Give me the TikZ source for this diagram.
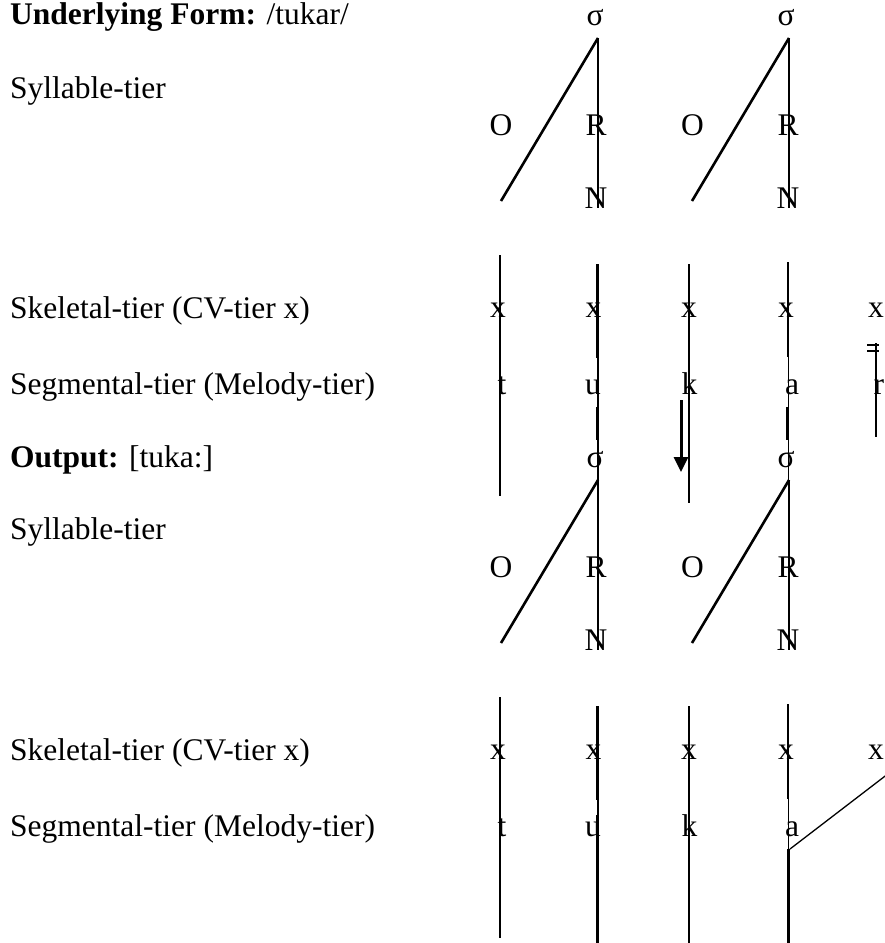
\documentclass[tikz,border=0pt]{standalone}
\usepackage{fontspec}
\setmainfont{Liberation Serif}
\usepackage{tikz}
\usetikzlibrary{arrows.meta}

\begin{document}
\begin{tikzpicture}[
    x=1pt, y=-1pt,
    lbl/.style={font=\fontsize{31.5}{36}\selectfont, inner sep=0pt, anchor=base west},
    sym/.style={font=\fontsize{31.5}{36}\selectfont, inner sep=0pt, anchor=base},
    assoc/.style={line width=2.6pt, black},
    assocthin/.style={line width=1.3pt, black},
    movearr/.style={-{Triangle[width=14pt,length=15pt]}, line width=3pt, black},
]
\useasboundingbox (0,0) rectangle (885,943);
\clip (0,0) rectangle (885,943);
% tier labels
\node[lbl] (uf) at (10,24) {\textbf{Underlying Form:} /tukar/};
\node[lbl] (sylU) at (10,98) {Syllable-tier};
\node[lbl] (skelU) at (10,318) {Skeletal-tier (CV-tier x)};
\node[lbl] (segU) at (10,394) {Segmental-tier (Melody-tier)};
\node[lbl] (outp) at (10,467) {\textbf{Output:} [tuka:]};
\node[lbl] (sylL) at (10,539) {Syllable-tier};
\node[lbl] (skelL) at (10,760) {Skeletal-tier (CV-tier x)};
\node[lbl] (segL) at (10,836) {Segmental-tier (Melody-tier)};
% underlying form: syllables
\node[sym] (sigUA) at (595,25) {σ};
\node[sym] (sigUB) at (786,25) {σ};
\node[sym] (onsUA) at (501,135) {O};
\node[sym] (rhyUA) at (596,135) {R};
\node[sym] (nucUA) at (596,208) {N};
\node[sym] (onsUB) at (692.5,135) {O};
\node[sym] (rhyUB) at (788,135) {R};
\node[sym] (nucUB) at (788,208) {N};
\coordinate (apUA) at (598,38);
\coordinate (oeUA) at (501,201);
\coordinate (neUA) at (598,208);
\coordinate (apUB) at (789,38);
\coordinate (oeUB) at (692,201);
\coordinate (neUB) at (789,208);
\draw[assoc] (apUA) -- (oeUA);
\draw[assoc] (apUA) -- (neUA);
\draw[assoc] (apUB) -- (oeUB);
\draw[assoc] (apUB) -- (neUB);
% underlying form: skeleton and melody
\node[sym] (xU1) at (498,317) {x};
\node[sym] (xU2) at (593.5,317) {x};
\node[sym] (xU3) at (689,317) {x};
\node[sym] (xU4) at (786,317) {x};
\node[sym] (xU5) at (876,317) {x};
\node[sym] (tU) at (502,394) {t};
\node[sym] (uU) at (593,394) {u};
\node[sym] (kU) at (689.5,394) {k};
\node[sym] (aU) at (792,394) {a};
\node[lbl] (rU) at (873.5,394) {r};
\coordinate (tU0) at (500,255);
\coordinate (tU1) at (500,496);
\coordinate (uU0) at (598,264);
\coordinate (uU1) at (598,503);
\coordinate (uUa) at (597.5,264);
\coordinate (uUb) at (597.5,358);
\coordinate (uUc) at (597,407);
\coordinate (uUd) at (597,440);
\coordinate (kU0) at (689,264);
\coordinate (kU1) at (689,503);
\coordinate (aU0) at (788.5,262);
\coordinate (aU1) at (788.5,503);
\coordinate (aUa) at (788,262);
\coordinate (aUb) at (788,357);
\coordinate (aUc) at (787.5,407);
\coordinate (aUd) at (787.5,440);
\draw[assoc] (tU0) -- (tU1);
\draw[assocthin] (uU0) -- (uU1);
\draw[assoc] (uUa) -- (uUb);
\draw[assoc] (uUc) -- (uUd);
\draw[assoc] (kU0) -- (kU1);
\draw[assocthin] (aU0) -- (aU1);
\draw[assoc] (aUa) -- (aUb);
\draw[assoc] (aUc) -- (aUd);
% delinked r
\coordinate (rU0) at (876,343);
\coordinate (rU1) at (876,437);
\coordinate (dlA0) at (867,345);
\coordinate (dlA1) at (879,345);
\coordinate (dlB0) at (867,351);
\coordinate (dlB1) at (879,351);
\draw[assocthin] (rU0) -- (rU1);
\draw[assocthin] (dlA0) -- (dlA1);
\draw[assocthin] (dlB0) -- (dlB1);
% derivation arrow
\coordinate (arr0) at (681,400);
\coordinate (arr1) at (681,472);
\draw[movearr] (arr0) -- (arr1);
% output: syllables
\node[sym] (sigLA) at (595,467) {σ};
\node[sym] (sigLB) at (786,467) {σ};
\node[sym] (onsLA) at (501,577) {O};
\node[sym] (rhyLA) at (596,577) {R};
\node[sym] (nucLA) at (596,650) {N};
\node[sym] (onsLB) at (692.5,577) {O};
\node[sym] (rhyLB) at (788,577) {R};
\node[sym] (nucLB) at (788,650) {N};
\coordinate (apLA) at (598,480);
\coordinate (oeLA) at (501,643);
\coordinate (neLA) at (598,650);
\coordinate (apLB) at (789,480);
\coordinate (oeLB) at (692,643);
\coordinate (neLB) at (789,650);
\draw[assoc] (apLA) -- (oeLA);
\draw[assoc] (apLA) -- (neLA);
\draw[assoc] (apLB) -- (oeLB);
\draw[assoc] (apLB) -- (neLB);
% output: skeleton and melody
\node[sym] (xL1) at (498,759) {x};
\node[sym] (xL2) at (593.5,759) {x};
\node[sym] (xL3) at (689,759) {x};
\node[sym] (xL4) at (786,759) {x};
\node[sym] (xL5) at (876,759) {x};
\node[sym] (tL) at (502,836) {t};
\node[sym] (uL) at (593,836) {u};
\node[sym] (kL) at (689.5,836) {k};
\node[sym] (aL) at (792,836) {a};
\coordinate (tL0) at (500,697);
\coordinate (tL1) at (500,938);
\coordinate (uL0) at (598,706);
\coordinate (uL1) at (598,945);
\coordinate (uLa) at (597.5,706);
\coordinate (uLb) at (597.5,800);
\coordinate (uLc) at (597,815);
\coordinate (uLd) at (597,945);
\coordinate (kL0) at (689,706);
\coordinate (kL1) at (689,945);
\coordinate (aL0) at (788.5,704);
\coordinate (aL1) at (788.5,945);
\coordinate (aLa) at (788,704);
\coordinate (aLb) at (788,799);
\coordinate (aLc) at (788.5,849);
\coordinate (aLd) at (788.5,945);
\draw[assoc] (tL0) -- (tL1);
\draw[assocthin] (uL0) -- (uL1);
\draw[assoc] (uLa) -- (uLb);
\draw[assoc] (uLc) -- (uLd);
\draw[assoc] (kL0) -- (kL1);
\draw[assocthin] (aL0) -- (aL1);
\draw[assoc] (aLa) -- (aLb);
\draw[assoc] (aLc) -- (aLd);
% lengthening: a spreads to the last x
\coordinate (spr0) at (790,849);
\coordinate (spr1) at (893,770);
\draw[assocthin] (spr0) -- (spr1);
\end{tikzpicture}
\end{document}
